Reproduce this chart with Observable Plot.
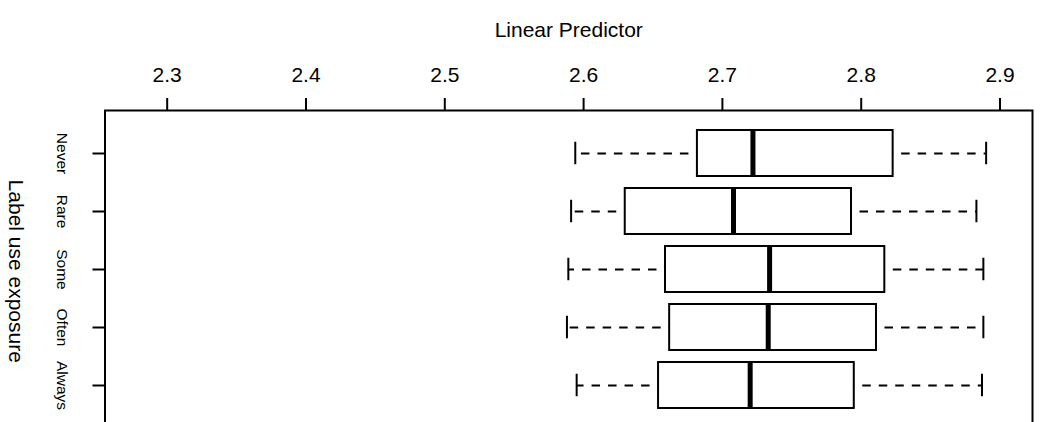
<!DOCTYPE html>
<html>
<head>
<meta charset="utf-8">
<script src="https://cdn.jsdelivr.net/npm/d3@7"></script>
<script src="https://cdn.jsdelivr.net/npm/@observablehq/plot@0.6"></script>
<style>
  html, body { margin: 0; padding: 0; background: #fff; overflow: hidden; }
  #chart svg { display: block; }
</style>
</head>
<body>
<div id="chart"></div>
<script>
const categories = ["Never", "Rare", "Some", "Often", "Always"];
const lowerWhisker = [2.594, 2.591, 2.589, 2.588, 2.595];
const q1 = [2.682, 2.630, 2.659, 2.662, 2.654];
const median = [2.722, 2.708, 2.734, 2.733, 2.720];
const q3 = [2.823, 2.793, 2.817, 2.811, 2.795];
const upperWhisker = [2.890, 2.883, 2.888, 2.888, 2.887];
const xTicks = [2.3, 2.4, 2.5, 2.6, 2.7, 2.8, 2.9];
const xTitle = "Linear Predictor";
const yTitle = "Label use exposure";

const rows = categories.map((c, i) => ({
  cat: c, lo: lowerWhisker[i], q1: q1[i], med: median[i], q3: q3[i], hi: upperWhisker[i]
}));

const font = "'Liberation Sans', Arial, Helvetica, sans-serif";
const bw = 0.8 * 58.8;

const chart = Plot.plot({
  width: 1040,
  height: 422,
  marginLeft: 104.5,
  marginRight: 8,
  marginTop: 110,
  marginBottom: -5.5,
  style: { fontFamily: font, background: "white", color: "black", overflow: "visible" },
  x: { domain: [2.2552, 2.9234] },
  y: { type: "band", domain: categories, paddingInner: 0.2, paddingOuter: 0.3 },
  marks: [
    Plot.ruleY(rows, { y: "cat", x1: "q1", x2: "lo", stroke: "black", strokeWidth: 2, strokeDasharray: "8.5,8", strokeDashoffset: 8 }),
    Plot.ruleY(rows, { y: "cat", x1: "q3", x2: "hi", stroke: "black", strokeWidth: 2, strokeDasharray: "8.5,8", strokeDashoffset: 8 }),
    Plot.tickX(rows, { x: "lo", y: "cat", stroke: "black", strokeWidth: 2, insetTop: bw / 4, insetBottom: bw / 4 }),
    Plot.tickX(rows, { x: "hi", y: "cat", stroke: "black", strokeWidth: 2, insetTop: bw / 4, insetBottom: bw / 4 }),
    Plot.barX(rows, { y: "cat", x1: "q1", x2: "q3", fill: "white", stroke: "black", strokeWidth: 2 }),
    Plot.tickX(rows, { x: "med", y: "cat", stroke: "black", strokeWidth: 5 }),
    Plot.frame({ stroke: "black", strokeWidth: 2 }),
    Plot.axisX({ anchor: "top", ticks: xTicks, tickSize: 13, tickPadding: 16, fontSize: 21, label: null, tickFormat: d => d.toFixed(1), strokeWidth: 2 }),
    Plot.axisY({ anchor: "left", tickSize: 12, tickPadding: 25, tickRotate: 90, fontSize: 15.5, label: null, strokeWidth: 2 }),
    Plot.text([xTitle], { frameAnchor: "top", dy: -88, fontSize: 21 }),
    Plot.text([yTitle], { frameAnchor: "left", textAnchor: "middle", dx: -89, dy: 2, rotate: 90, fontSize: 21 })
  ]
});
document.getElementById("chart").appendChild(chart);
</script>
</body>
</html>
